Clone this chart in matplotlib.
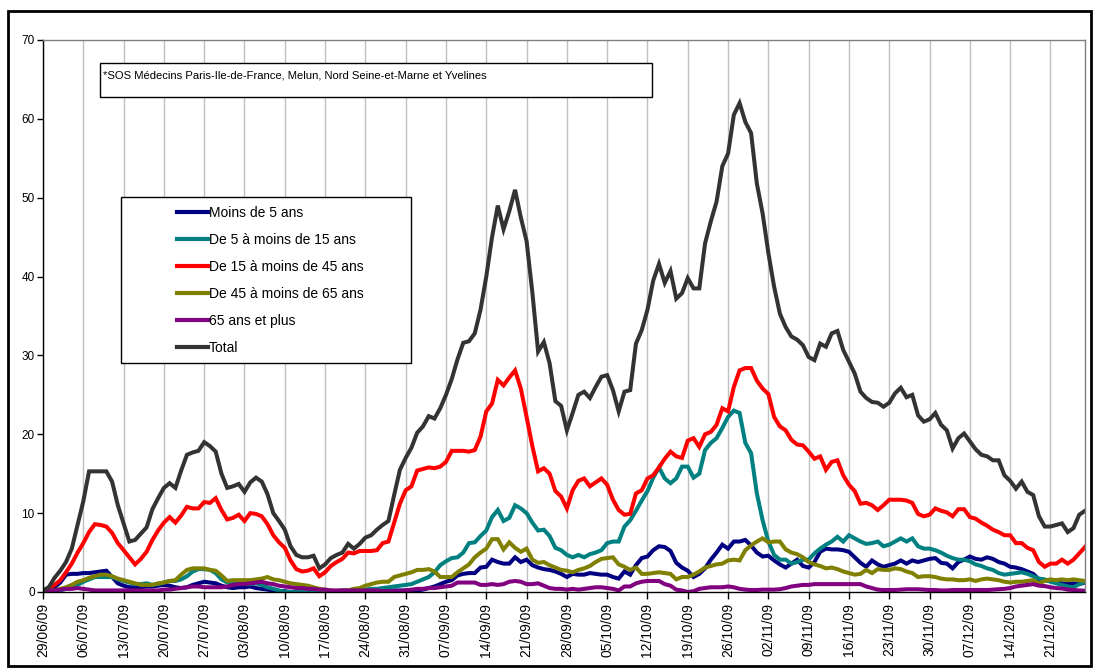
# Consultations SOS Medecins par classe d'age - juin a decembre 2009
import pandas as pd
import numpy as np
import matplotlib
matplotlib.use('Agg')
import matplotlib.pyplot as plt
from matplotlib.patches import Rectangle

plt.rcParams['font.family'] = ['Liberation Sans', 'DejaVu Sans']

# --> Data (one value per day, starting 29/06/09)
start_date = '2009-06-29'

moins_5 = [0.0, 0.2, 0.6, 1.2, 2.2, 2.3, 2.3, 2.4, 2.4, 2.5,
           2.6, 2.7, 1.9, 1.1, 0.8, 0.6, 0.6, 0.6, 0.7, 0.7,
           0.8, 0.9, 0.8, 0.6, 0.5, 0.6, 0.9, 1.1, 1.3, 1.2,
           1.1, 0.8, 0.6, 0.5, 0.6, 0.6, 0.7, 0.5, 0.4, 0.3,
           0.2, 0.1, 0.1, 0.0, 0.0, 0.0, 0.0, 0.0, 0.0, 0.0,
           0.0, 0.0, 0.0, 0.1, 0.1, 0.1, 0.1, 0.2, 0.2, 0.2,
           0.2, 0.2, 0.2, 0.2, 0.2, 0.2, 0.3, 0.5, 0.7, 1.0,
           1.3, 1.5, 2.1, 2.3, 2.4, 2.4, 3.1, 3.2, 4.1, 3.8,
           3.6, 3.6, 4.4, 3.8, 4.1, 3.4, 3.1, 2.9, 2.8, 2.6,
           2.3, 1.9, 2.3, 2.2, 2.2, 2.4, 2.3, 2.2, 2.2, 1.9,
           1.7, 2.6, 2.2, 3.4, 4.3, 4.5, 5.3, 5.8, 5.7, 5.2,
           3.7, 3.1, 2.7, 1.9, 2.3, 3.0, 4.1, 5.0, 6.0, 5.5,
           6.4, 6.4, 6.6, 5.9, 5.0, 4.5, 4.6, 4.0, 3.5, 3.1,
           3.6, 4.1, 3.3, 3.1, 3.8, 5.1, 5.5, 5.4, 5.4, 5.3,
           5.1, 4.4, 3.7, 3.2, 4.0, 3.5, 3.2, 3.4, 3.6, 4.0,
           3.6, 4.0, 3.8, 4.0, 4.2, 4.3, 3.7, 3.6, 3.0, 3.8,
           4.1, 4.5, 4.2, 4.1, 4.4, 4.2, 3.8, 3.6, 3.2, 3.1,
           2.9, 2.6, 2.3, 1.6, 1.5, 1.4, 1.2, 1.1, 1.0, 1.1,
           1.0, 1.2]

de_5_15 = [0.0, 0.0, 0.1, 0.2, 0.4, 0.5, 0.9, 1.3, 1.6, 1.9,
           1.9, 1.9, 1.9, 1.6, 1.4, 1.2, 1.0, 1.0, 1.1, 0.9,
           1.0, 1.2, 1.4, 1.4, 1.6, 2.0, 2.6, 2.9, 2.9, 2.8,
           2.4, 1.6, 1.2, 1.1, 1.0, 1.0, 1.0, 1.1, 0.9, 0.6,
           0.4, 0.2, 0.0, 0.0, 0.0, 0.0, 0.0, 0.0, 0.0, 0.0,
           0.0, 0.1, 0.2, 0.2, 0.3, 0.3, 0.3, 0.4, 0.4, 0.5,
           0.6, 0.7, 0.8, 0.9, 1.0, 1.3, 1.6, 1.9, 2.5, 3.4,
           3.9, 4.3, 4.4, 5.0, 6.2, 6.3, 7.1, 7.8, 9.5, 10.4,
           9.0, 9.4, 11.0, 10.6, 10.0, 8.8, 7.8, 7.9, 7.1, 5.6,
           5.3, 4.7, 4.4, 4.7, 4.4, 4.8, 5.0, 5.3, 6.2, 6.4,
           6.4, 8.3, 9.1, 10.3, 11.6, 12.8, 14.5, 15.8, 14.4, 13.8,
           14.4, 15.9, 15.9, 14.5, 15.0, 18.0, 18.9, 19.5, 20.8, 22.2,
           23.0, 22.7, 18.9, 17.6, 12.5, 9.1, 6.4, 4.7, 4.1, 4.1,
           3.6, 3.8, 4.1, 4.1, 4.9, 5.5, 6.0, 6.4, 7.0, 6.4,
           7.2, 6.8, 6.4, 6.1, 6.2, 6.4, 5.8, 6.0, 6.4, 6.8,
           6.4, 6.8, 5.8, 5.5, 5.5, 5.3, 5.0, 4.6, 4.3, 4.1,
           4.1, 3.9, 3.5, 3.3, 3.0, 2.8, 2.4, 2.2, 2.3, 2.4,
           2.5, 2.3, 2.0, 1.7, 1.6, 1.3, 1.1, 0.9, 0.7, 0.6,
           1.0, 1.3]

de_15_45 = [0.0, 0.5, 0.9, 1.5, 2.5, 3.6, 5.0, 6.2, 7.6, 8.6,
            8.5, 8.3, 7.5, 6.2, 5.3, 4.4, 3.5, 4.2, 5.1, 6.6,
            7.8, 8.8, 9.5, 8.8, 9.7, 10.8, 10.6, 10.6, 11.4, 11.3,
            11.9, 10.4, 9.2, 9.4, 9.8, 9.0, 10.0, 9.9, 9.6, 8.6,
            7.2, 6.3, 5.6, 4.0, 2.9, 2.6, 2.7, 3.0, 2.0, 2.5,
            3.3, 3.8, 4.2, 5.0, 4.9, 5.2, 5.2, 5.2, 5.3, 6.2,
            6.4, 8.8, 11.2, 12.9, 13.4, 15.4, 15.6, 15.8, 15.7, 15.9,
            16.5, 17.9, 17.9, 17.9, 17.8, 18.0, 19.7, 22.9, 23.9, 26.9,
            26.2, 27.2, 28.1, 25.8, 22.2, 18.5, 15.3, 15.7, 15.0, 12.8,
            12.1, 10.6, 12.9, 14.1, 14.4, 13.4, 13.9, 14.4, 13.6, 11.7,
            10.4, 9.8, 9.9, 12.5, 12.9, 14.4, 14.8, 15.8, 16.9, 17.8,
            17.2, 17.0, 19.2, 19.5, 18.4, 20.0, 20.3, 21.2, 23.3, 22.9,
            26.0, 28.1, 28.4, 28.4, 26.8, 25.8, 25.1, 22.2, 21.0, 20.5,
            19.3, 18.7, 18.6, 17.8, 16.9, 17.2, 15.5, 16.5, 16.7, 14.8,
            13.6, 12.8, 11.2, 11.3, 11.0, 10.4, 11.0, 11.7, 11.7, 11.7,
            11.6, 11.3, 9.9, 9.6, 9.8, 10.6, 10.3, 10.1, 9.6, 10.5,
            10.5, 9.5, 9.3, 8.8, 8.4, 7.9, 7.6, 7.2, 7.2, 6.2,
            6.2, 5.6, 5.3, 3.8, 3.2, 3.6, 3.6, 4.1, 3.6, 4.1,
            4.9, 5.7]

de_45_65 = [0.0, 0.1, 0.2, 0.4, 0.6, 0.9, 1.3, 1.5, 1.8, 2.0,
            2.2, 2.2, 2.0, 1.7, 1.5, 1.3, 1.1, 0.9, 0.9, 0.9,
            1.1, 1.2, 1.4, 1.5, 2.2, 2.8, 3.0, 3.0, 3.0, 2.8,
            2.7, 2.1, 1.4, 1.5, 1.5, 1.5, 1.5, 1.6, 1.7, 1.9,
            1.6, 1.5, 1.3, 1.1, 1.0, 0.9, 0.8, 0.6, 0.4, 0.3,
            0.2, 0.1, 0.2, 0.2, 0.4, 0.5, 0.8, 1.0, 1.2, 1.3,
            1.3, 1.9, 2.1, 2.3, 2.5, 2.8, 2.8, 2.9, 2.6, 1.9,
            1.9, 1.9, 2.5, 3.0, 3.5, 4.4, 5.0, 5.5, 6.7, 6.7,
            5.4, 6.3, 5.6, 5.1, 5.5, 4.1, 3.7, 3.8, 3.4, 3.1,
            2.8, 2.7, 2.5, 2.8, 3.0, 3.3, 3.8, 4.2, 4.3, 4.4,
            3.5, 3.2, 2.8, 3.1, 2.3, 2.3, 2.4, 2.5, 2.4, 2.3,
            1.6, 1.9, 1.9, 2.2, 2.6, 3.1, 3.3, 3.5, 3.6, 4.0,
            4.1, 4.0, 5.3, 5.9, 6.4, 6.8, 6.3, 6.4, 6.4, 5.4,
            5.0, 4.8, 4.4, 3.8, 3.5, 3.3, 3.0, 3.1, 2.9, 2.6,
            2.4, 2.2, 2.3, 2.8, 2.4, 2.9, 2.8, 2.8, 3.0, 2.9,
            2.6, 2.4, 1.9, 2.0, 2.0, 1.9, 1.7, 1.6, 1.6, 1.5,
            1.5, 1.6, 1.4, 1.6, 1.7, 1.6, 1.5, 1.3, 1.2, 1.3,
            1.3, 1.4, 1.5, 1.1, 1.4, 1.6, 1.5, 1.6, 1.5, 1.6,
            1.5, 1.4]

plus_65 = [0.0, 0.1, 0.2, 0.3, 0.4, 0.4, 0.5, 0.4, 0.3, 0.2,
           0.2, 0.2, 0.2, 0.2, 0.2, 0.2, 0.2, 0.2, 0.2, 0.2,
           0.2, 0.3, 0.3, 0.4, 0.5, 0.6, 0.7, 0.7, 0.6, 0.6,
           0.6, 0.6, 0.7, 0.9, 1.0, 1.0, 1.1, 1.2, 1.3, 1.1,
           1.0, 0.8, 0.7, 0.6, 0.5, 0.5, 0.4, 0.4, 0.3, 0.3,
           0.2, 0.2, 0.2, 0.2, 0.2, 0.2, 0.2, 0.2, 0.2, 0.1,
           0.1, 0.1, 0.1, 0.2, 0.3, 0.4, 0.4, 0.5, 0.5, 0.6,
           0.7, 0.8, 1.2, 1.2, 1.2, 1.2, 0.9, 0.9, 1.0, 0.9,
           1.0, 1.3, 1.4, 1.3, 1.0, 1.0, 1.1, 0.8, 0.5, 0.4,
           0.4, 0.3, 0.4, 0.3, 0.4, 0.5, 0.6, 0.6, 0.5, 0.4,
           0.2, 0.7, 0.7, 1.1, 1.3, 1.4, 1.4, 1.4, 1.0, 0.8,
           0.3, 0.2, 0.0, 0.1, 0.4, 0.5, 0.6, 0.6, 0.6, 0.7,
           0.6, 0.4, 0.3, 0.25, 0.25, 0.3, 0.3, 0.3, 0.35, 0.5,
           0.7, 0.8, 0.9, 0.9, 1.0, 1.0, 1.0, 1.0, 1.0, 1.0,
           1.0, 1.0, 1.0, 0.7, 0.5, 0.3, 0.25, 0.25, 0.25, 0.3,
           0.35, 0.35, 0.35, 0.3, 0.25, 0.25, 0.2, 0.2, 0.25, 0.25,
           0.25, 0.25, 0.25, 0.25, 0.25, 0.3, 0.35, 0.4, 0.5, 0.7,
           0.8, 0.9, 1.0, 0.8, 0.75, 0.6, 0.5, 0.45, 0.3, 0.25,
           0.2, 0.15]

total = [0.2, 0.6, 1.8, 2.7, 3.8, 5.5, 8.5, 11.5, 15.3, 15.3,
         15.3, 15.3, 14.0, 11.0, 8.7, 6.4, 6.6, 7.4, 8.2, 10.5,
         11.9, 13.2, 13.8, 13.2, 15.4, 17.4, 17.7, 17.9, 19.0, 18.5,
         17.8, 15.0, 13.2, 13.4, 13.7, 12.7, 13.9, 14.5, 14.0, 12.4,
         10.0, 9.0, 7.9, 5.8, 4.7, 4.4, 4.4, 4.6, 3.0, 3.5,
         4.3, 4.7, 5.0, 6.1, 5.5, 6.1, 6.9, 7.2, 7.9, 8.5,
         9.0, 12.3, 15.5, 17.0, 18.3, 20.2, 21.0, 22.3, 22.0, 23.3,
         25.0, 27.0, 29.5, 31.6, 31.8, 32.8, 35.8, 40.0, 45.0, 49.0,
         46.0, 48.3, 51.0, 47.5, 44.5, 38.0, 30.5, 31.7, 29.0, 24.2,
         23.6, 20.5, 22.7, 25.0, 25.4, 24.6, 26.0, 27.3, 27.5, 25.6,
         22.9, 25.4, 25.6, 31.5, 33.2, 35.8, 39.5, 41.6, 39.2, 40.7,
         37.2, 37.9, 39.8, 38.5, 38.5, 44.2, 47.0, 49.5, 54.0, 55.6,
         60.5, 62.0, 59.6, 58.2, 51.8, 48.0, 43.0, 38.7, 35.3, 33.6,
         32.4, 32.0, 31.3, 29.8, 29.4, 31.5, 31.1, 32.8, 33.1, 30.7,
         29.2, 27.7, 25.4, 24.6, 24.1, 24.0, 23.5, 24.0, 25.2, 25.9,
         24.7, 25.0, 22.4, 21.6, 21.9, 22.7, 21.2, 20.5, 18.2, 19.5,
         20.1, 19.1, 18.1, 17.4, 17.2, 16.7, 16.7, 14.8, 14.1, 13.1,
         14.0, 12.7, 12.3, 9.6, 8.3, 8.3, 8.5, 8.7, 7.6, 8.1,
         9.8, 10.3]

series_labels = ['Moins de 5 ans', 'De 5 à moins de 15 ans', 'De 15 à moins de 45 ans',
                 'De 45 à moins de 65 ans', '65 ans et plus', 'Total']
series_values = [moins_5, de_5_15, de_15_45, de_45_65, plus_65, total]
series_colors = ['#000080', '#008080', '#FF0000', '#808000', '#800080', '#333333']

note_text = '*SOS Médecins Paris-Ile-de-France, Melun, Nord Seine-et-Marne et Yvelines'

n_days = len(total)
days = np.arange(n_days)
dates = pd.date_range(start_date, periods=n_days, freq='D')

# --> Figure (pixel layout 1096 x 672)
W, H = 1096, 672
fig = plt.figure(figsize=(W/100, H/100), dpi=100)

def px_box(x0, y0, x1, y1):
    # pixel box (top-left origin) to figure fraction [left, bottom, width, height]
    return [x0/W, 1-y1/H, (x1-x0)/W, (y1-y0)/H]

ax = fig.add_axes(px_box(43, 40, 1085, 592))

for values, label, color in zip(series_values, series_labels, series_colors):
    ax.plot(days, values, color=color, lw=2.9, label=label, solid_joinstyle='miter')

# Axes
ax.set_xlim(0, n_days-1)
ax.set_ylim(0, 70)
ax.set_yticks(range(0, 71, 10))
tick_pos = days[::7]
ax.set_xticks(tick_pos)
ax.set_xticklabels(dates[::7].strftime('%d/%m/%y'), rotation=90)
ax.tick_params(axis='y', direction='out', length=4, width=1, labelsize=8.5, pad=2)
ax.tick_params(axis='x', direction='out', length=5, width=1, labelsize=10, pad=3)
ax.grid(axis='x', color='#C0C0C0', lw=1)
ax.set_axisbelow(True)

for side in ['left', 'bottom']:
    ax.spines[side].set_color('black')
    ax.spines[side].set_linewidth(1)
for side in ['top', 'right']:
    ax.spines[side].set_color('#808080')
    ax.spines[side].set_linewidth(1)

# Legend (frame drawn separately, Excel style)
x0, y0, w, h = px_box(121, 197, 411, 363)
fig.patches.append(Rectangle((x0, y0), w, h, transform=fig.transFigure,
                             facecolor='white', edgecolor='black', lw=1, zorder=5))
leg = fig.legend(loc='upper left', bbox_to_anchor=(177/W, 1-206/H), frameon=False,
                 fontsize=10, handlelength=2.2, handletextpad=0.1, labelspacing=0.94,
                 borderpad=0, borderaxespad=0)
for line in leg.get_lines():
    line.set_linewidth(3)
leg.set_zorder(6)

# Note box
x0, y0, w, h = px_box(100, 63, 652, 97)
fig.patches.append(Rectangle((x0, y0), w, h, transform=fig.transFigure,
                             facecolor='white', edgecolor='black', lw=1, zorder=5))
fig.text(103/W, 1-76/H, note_text, fontsize=8.1, va='center', ha='left', zorder=6)

# Outer frame
x0, y0, w, h = px_box(8, 11, 1091, 666)
fig.patches.append(Rectangle((x0, y0), w, h, transform=fig.transFigure,
                             facecolor='none', edgecolor='black', lw=2, zorder=7))

plt.savefig('out.png', dpi=100)
